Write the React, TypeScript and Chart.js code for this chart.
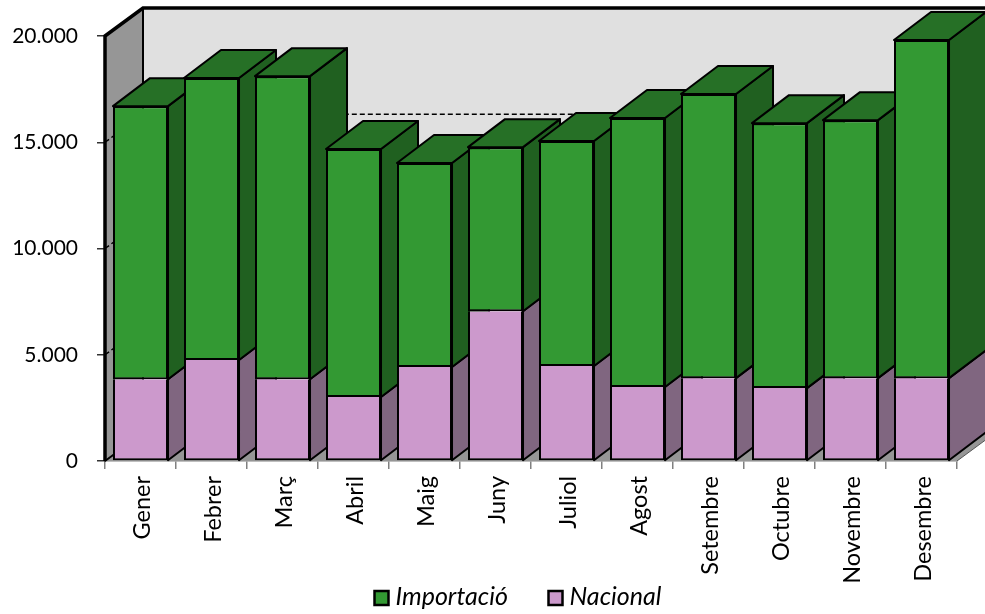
import { useEffect, useRef } from "react";
import { Chart, registerables } from "chart.js";

Chart.register(...registerables);

const months = ["Gener", "Febrer", "Març", "Abril", "Maig", "Juny", "Juliol", "Agost", "Setembre", "Octubre", "Novembre", "Desembre"];
const nacional = [3850, 4750, 3850, 3010, 4420, 7050, 4470, 3480, 3900, 3430, 3900, 3900];
const importacio = [12850, 13270, 14260, 11670, 9600, 7720, 10590, 12660, 13370, 12470, 12140, 15910];
const legendOrder = [1, 0];
const legendBoxX = [374.5, 548.5];

const FONT = "Lato, sans-serif";
const DX = 37;
const DY = 28;
const WALL_DX = 38;

const GREEN = { front: "#339933", top: "#267026", side: "#206020" };
const PINK = { front: "#CC99CC", top: "#996699", side: "#806680" };

const poly = (ctx: CanvasRenderingContext2D, pts: number[][], fill: string | null, stroke: string | null, lw = 2) => {
  ctx.beginPath();
  pts.forEach((p, i) => (i ? ctx.lineTo(p[0], p[1]) : ctx.moveTo(p[0], p[1])));
  ctx.closePath();
  if (fill) {
    ctx.fillStyle = fill;
    ctx.fill();
  }
  if (stroke) {
    ctx.strokeStyle = stroke;
    ctx.lineWidth = lw;
    ctx.lineJoin = "round";
    ctx.stroke();
  }
};

const threeD = {
  id: "threeD",
  beforeDatasetsDraw(chart: any) {
    const { ctx, chartArea: a, scales } = chart;
    const y = scales.y;
    ctx.save();
    // back wall
    ctx.fillStyle = "#E0E0E0";
    ctx.fillRect(a.left + WALL_DX, a.top - DY, a.right - a.left + 2, a.bottom - a.top);
    // side wall
    poly(ctx, [[a.left, a.top], [a.left + WALL_DX, a.top - DY], [a.left + WALL_DX, a.bottom - DY], [a.left, a.bottom]], "#969696", null);
    // floor
    poly(ctx, [[a.left, a.bottom], [a.left + WALL_DX, a.bottom - DY], [a.right + WALL_DX, a.bottom - DY], [a.right, a.bottom]], "#969696", null);
    ctx.beginPath();
    ctx.moveTo(a.right, a.bottom);
    ctx.lineTo(a.right + WALL_DX, a.bottom - DY);
    ctx.strokeStyle = "#555555";
    ctx.lineWidth = 1;
    ctx.stroke();
    // dashed gridlines
    y.ticks.forEach((t: any) => {
      if (t.value === 0 || t.value === y.max) return;
      const py = y.getPixelForValue(t.value);
      ctx.beginPath();
      ctx.moveTo(a.left, py);
      ctx.lineTo(a.left + WALL_DX, py - DY);
      ctx.lineTo(a.right + WALL_DX, py - DY);
      ctx.setLineDash([5, 3]);
      ctx.strokeStyle = "#000000";
      ctx.lineWidth = 1.5;
      ctx.stroke();
      ctx.setLineDash([]);
    });
    // wall outline
    ctx.strokeStyle = "#000000";
    ctx.lineJoin = "miter";
    ctx.lineWidth = 3.5;
    ctx.beginPath();
    ctx.moveTo(a.left, a.bottom);
    ctx.lineTo(a.left, a.top);
    ctx.lineTo(a.left + WALL_DX, a.top - DY);
    ctx.lineTo(a.right + WALL_DX, a.top - DY);
    ctx.stroke();
    ctx.lineWidth = 2;
    ctx.beginPath();
    ctx.moveTo(a.left + WALL_DX, a.top - DY);
    ctx.lineTo(a.left + WALL_DX, a.bottom - DY);
    ctx.moveTo(a.left, a.bottom);
    ctx.lineTo(a.left + WALL_DX, a.bottom - DY);
    ctx.stroke();

    // bar sides and tops, left to right, bottom to top
    const low = chart.getDatasetMeta(0).data;
    const high = chart.getDatasetMeta(1).data;
    low.forEach((bar: any, i: number) => {
      [
        { el: bar, c: PINK },
        { el: high[i], c: GREEN },
      ].forEach(({ el, c }, k) => {
        const r = el.x + el.width / 2;
        const l = el.x - el.width / 2;
        poly(ctx, [[r, el.y], [r + DX, el.y - DY], [r + DX, el.base - DY], [r, el.base]], c.side, "#000000", 2);
        if (k === 1) poly(ctx, [[l, el.y], [l + DX, el.y - DY], [r + DX, el.y - DY], [r, el.y]], c.top, "#000000", 2);
      });
    });
    ctx.restore();
  },
  afterDraw(chart: any) {
    const { ctx } = chart;
    ctx.save();
    legendOrder.forEach((d, i) => {
      const ds = chart.data.datasets[d];
      const x = legendBoxX[i];
      ctx.fillStyle = ds.backgroundColor;
      ctx.fillRect(x, 591, 14, 14);
      ctx.strokeStyle = "#000000";
      ctx.lineWidth = 2.5;
      ctx.strokeRect(x, 591, 14, 14);
      ctx.fillStyle = "#000000";
      ctx.font = `italic 25px ${FONT}`;
      ctx.textBaseline = "middle";
      ctx.textAlign = "left";
      ctx.fillText(ds.label, x + 21, 597);
    });
    ctx.restore();
  },
};

export default function App() {
  const ref = useRef<HTMLCanvasElement>(null);
  useEffect(() => {
    document.body.style.margin = "0";
    const chart = new Chart(ref.current!, {
      type: "bar",
      data: {
        labels: months,
        datasets: [
          { label: "Nacional", data: nacional, backgroundColor: PINK.front, borderColor: "#000000", borderWidth: 2, borderSkipped: "end" },
          { label: "Importació", data: importacio, backgroundColor: GREEN.front, borderColor: "#000000", borderWidth: 2, borderSkipped: false },
        ],
      },
      options: {
        animation: false,
        responsive: false,
        devicePixelRatio: 1,
        barPercentage: 0.775,
        categoryPercentage: 1,
        layout: { padding: { top: 36, right: 28, left: 0, bottom: 0 } },
        plugins: {
          tooltip: { enabled: false },
          legend: { display: false },
        },
        scales: {
          x: {
            stacked: true,
            afterFit(s: any) {
              s.height = 153;
            },
            border: { color: "#808080", width: 1.5 },
            grid: { drawOnChartArea: false, drawTicks: true, tickLength: 8, color: "#808080", lineWidth: 1.5 },
            ticks: { minRotation: 90, maxRotation: 90, autoSkip: false, color: "#000000", padding: 7, labelOffset: 2, font: { family: FONT, size: 23.5 } },
          },
          y: {
            stacked: true,
            min: 0,
            max: 20000,
            afterFit(s: any) {
              s.width = 105;
            },
            border: { color: "#000000", width: 2 },
            grid: { drawOnChartArea: false, drawTicks: true, tickLength: 8, color: "#333333", lineWidth: 1.5 },
            ticks: {
              stepSize: 5000,
              color: "#000000",
              padding: 19,
              font: { family: FONT, size: 21 },
              callback: (v: any) => String(v).replace(/\B(?=(\d{3})+$)/g, "."),
            },
          },
        },
      } as any,
      plugins: [threeD],
    });
    return () => chart.destroy();
  }, []);
  return <canvas ref={ref} width={985} height={614} style={{ display: "block" }} />;
}
